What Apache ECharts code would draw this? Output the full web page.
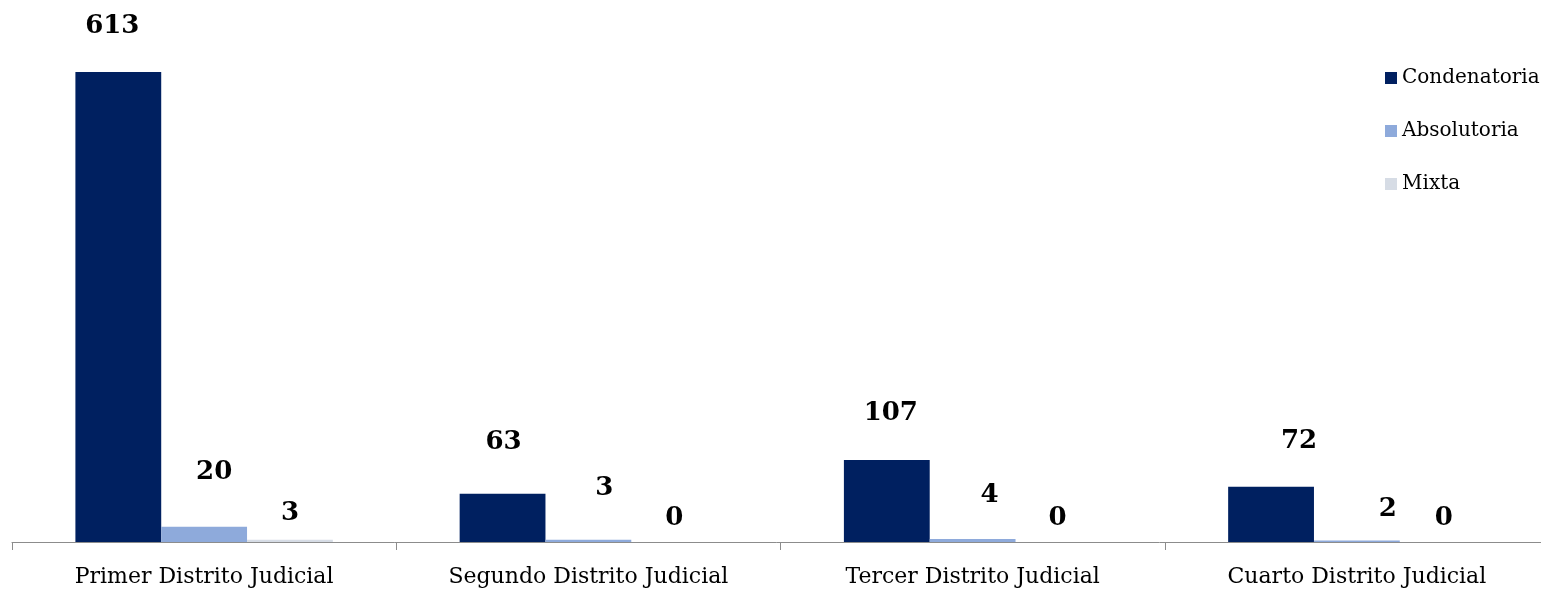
<!DOCTYPE html>
<html><head><meta charset="utf-8">
<script src="https://cdn.jsdelivr.net/npm/echarts@6/dist/echarts.min.js"></script>
<style>html,body{margin:0;padding:0;background:#fff}#c{width:1541px;height:589px}</style>
</head><body><div id="c"></div>
<script>
const categories = ['Primer Distrito Judicial','Segundo Distrito Judicial','Tercer Distrito Judicial','Cuarto Distrito Judicial'];
const seriesNames = ['Condenatoria','Absolutoria','Mixta'];
const condenatoria = [613, 63, 107, 72];
const absolutoria = [20, 3, 4, 2];
const mixta = [3, 0, 0, 0];
// label offsets (layout only): [dx, dy] per data point
const labelOffsets = [
  [[-6,-33],[1,-38],[4,-34],[28,-33]],
  [[10,-41],[16,-38],[17,-31],[31,-18]],
  [[0,-13],[0,-11],[-1,-11],[1,-11]]
];
const colors = ['#002060','#8EAADB','#D6DCE5'];
const FONT = 'DejaVu Serif';
const values = [condenatoria, absolutoria, mixta];
const chart = echarts.init(document.getElementById('c'));
chart.setOption({
  animation:false,
  grid:{left:12, width:1537, top:72, bottom:47, containLabel:false, outerBoundsMode:'none'},
  legend:{orient:'vertical', left:1380, top:63, itemWidth:12, itemHeight:12, itemGap:33, icon:'rect',
    textStyle:{fontFamily:FONT, fontSize:20, color:'#000'}, data:seriesNames},
  xAxis:{type:'category', data:categories,
    axisLine:{lineStyle:{color:'#8c8c8c', width:1}},
    axisTick:{show:true, length:8, lineStyle:{color:'#8c8c8c'}},
    axisLabel:{fontFamily:FONT, fontSize:22, color:'#000', margin:24}},
  yAxis:{type:'value', min:0, max:613, show:false, splitLine:{show:false}},
  series: seriesNames.map((n,si)=>({
    name:n, type:'bar', barGap:'0%', barCategoryGap:'33%',
    itemStyle:{color:colors[si]},
    data: values[si].map((v,i)=>({value:v, label:{offset:labelOffsets[si][i]}})),
    label:{show:true, position:'top', distance:0, fontFamily:FONT, fontWeight:'bold', fontSize:26, color:'#000'}
  }))
});
</script></body></html>
